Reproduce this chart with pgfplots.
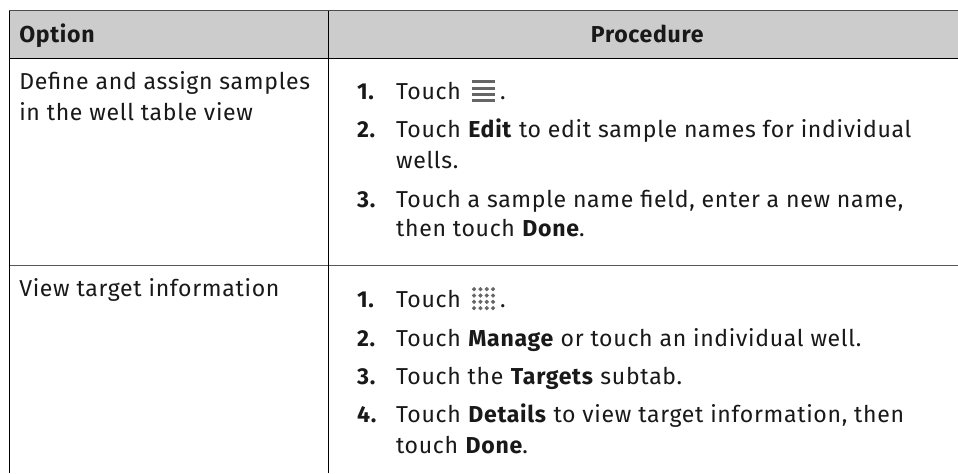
\documentclass[border=0pt]{standalone}
\usepackage{pgfplots}
\pgfplotsset{compat=1.18}
\usepackage{fontspec}
\setmainfont[LetterSpace=3]{Fira Sans}
\definecolor{hd}{HTML}{CCCCCC}
\definecolor{ic}{HTML}{666666}
\newcommand{\T}[3]{\node[anchor=base west,inner sep=0pt,yshift=-0.5pt,font=\fontsize{17.3}{20}\selectfont,text=black!90] at (axis cs:#1,#2) {#3};}
\begin{document}
\begin{tikzpicture}
\begin{axis}[scale only axis,width=718.5pt,height=354.75pt,xmin=0,xmax=958,ymin=0,ymax=473,y dir=reverse,axis lines=none,clip=false]
\addplot[draw=none,fill=white,forget plot] coordinates {(0,0)(958,0)(958,473)(0,473)} -- cycle;
\addplot[draw=none,fill=hd,forget plot] coordinates {(9,11)(958,11)(958,58)(9,58)} -- cycle;
\addplot[line width=0.75pt,color=black!70,forget plot] coordinates {(9,11)(958,11)};
\addplot[line width=0.6pt,color=black,forget plot] coordinates {(9,58)(958,58)};
\addplot[line width=0.75pt,color=black!65,forget plot] coordinates {(9,266)(958,266)};
\addplot[line width=0.6pt,color=black,forget plot] coordinates {(9,11)(9,473)};
\addplot[line width=0.6pt,color=black,forget plot] coordinates {(329,11)(329,473)};
% icon: list
\addplot[line width=2.2pt,color=ic,forget plot] coordinates {(472,82)(495,82)};
\addplot[line width=2.2pt,color=ic,forget plot] coordinates {(472,88.3)(495,88.3)};
\addplot[line width=2.2pt,color=ic,forget plot] coordinates {(472,94.6)(495,94.6)};
\addplot[line width=2.2pt,color=ic,forget plot] coordinates {(472,101)(495,101)};
% icon: well grid
\addplot[only marks,mark=*,mark size=1.35pt,color=ic,forget plot] coordinates {
(474.3,289.3)(480.7,289.3)(487,289.3)(493.3,289.3)
(474.3,295.7)(480.7,295.7)(487,295.7)(493.3,295.7)
(474.3,302)(480.7,302)(487,302)(493.3,302)
(474.3,308.3)(480.7,308.3)(487,308.3)(493.3,308.3)};
\T{19}{42}{\bfseries Option}
\T{591}{42}{\bfseries Procedure}
\T{19}{89}{Define and assign samples}
\T{19}{120}{in the well table view}
\T{19}{296}{View target information}
\T{357}{99}{\bfseries 1.}\T{396}{99}{Touch}\T{500}{99}{.}
\T{357}{137}{\bfseries 2.}\T{396}{137}{Touch \textbf{Edit} to edit sample names for individual}
\T{396}{168}{wells.}
\T{357}{207}{\bfseries 3.}\T{396}{207}{Touch a sample name field, enter a new name,}
\T{396}{236}{then touch \textbf{Done}.}
\T{357}{307}{\bfseries 1.}\T{396}{307}{Touch}\T{500}{307}{.}
\T{357}{346}{\bfseries 2.}\T{396}{346}{Touch \textbf{Manage} or touch an individual well.}
\T{357}{384}{\bfseries 3.}\T{396}{384}{Touch the \textbf{Targets} subtab.}
\T{357}{422}{\bfseries 4.}\T{396}{422}{Touch \textbf{Details} to view target information, then}
\T{396}{453}{touch \textbf{Done}.}
\end{axis}
\end{tikzpicture}
\end{document}
